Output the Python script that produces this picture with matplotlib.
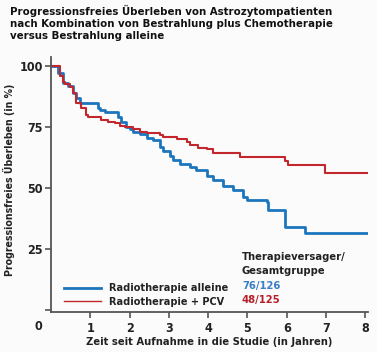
import matplotlib.pyplot as plt

plt.rcParams['font.family'] = ['DejaVu Sans']
plt.rcParams['font.stretch'] = 'condensed'
plt.rcParams['font.weight'] = 'bold'
plt.rcParams['axes.labelweight'] = 'bold'

# Kaplan-Meier steps
t_rt = [0, 0.18, 0.3, 0.43, 0.56, 0.64, 0.74, 1.2, 1.25, 1.37, 1.7, 1.78, 1.9, 2.0, 2.08,
        2.26, 2.44, 2.6, 2.77, 2.85, 3.03, 3.1, 3.28, 3.54, 3.7, 3.97, 4.12, 4.38, 4.63,
        4.89, 5.0, 5.5, 5.52, 5.95, 6.46, 8.05]
s_rt = [100, 97, 93, 92, 89, 87, 85, 83, 82, 81, 79, 77, 75, 74, 73,
        72, 70.5, 69.7, 67, 65, 63, 61.5, 60, 58.6, 57.4, 55, 53.3, 51, 49,
        46.5, 45, 44.3, 41, 34, 31.6, 31.6]
t_pcv = [0, 0.23, 0.3, 0.36, 0.48, 0.56, 0.64, 0.76, 0.89, 0.94, 1.27, 1.45, 1.63, 1.75,
         1.88, 2.08, 2.26, 2.44, 2.77, 2.85, 3.2, 3.46, 3.54, 3.74, 3.97, 4.12, 4.81,
         5.95, 6.03, 6.97, 8.05]
s_pcv = [100, 96, 93.4, 92.6, 91.4, 89, 85, 83, 80, 79, 77.9, 77, 76.6, 75.4,
         75, 74, 73, 72.5, 71.7, 70.9, 70, 69, 67.6, 66.4, 66, 64.3, 62.7,
         61, 59.4, 56, 56]

labels = ['Radiotherapie alleine', 'Radiotherapie + PCV']
counts = ['76/126', '48/125']
colors = ['#1c76be', '#c4262e']
xticks = [1, 2, 3, 4, 5, 6, 7, 8]
yticks = [25, 50, 75, 100]

W, H = 377, 352
fig = plt.figure(figsize=(W / 100, H / 100), dpi=100, facecolor='#fbfbfb')
ax = fig.add_axes([51 / W, 1 - 312 / H, (368 - 51) / W, (312 - 57) / H])
ax.set_facecolor('#fbfbfb')

l1, = ax.step(t_rt, s_rt, where='post', color=colors[0], lw=2.0)
l2, = ax.step(t_pcv, s_pcv, where='post', color=colors[1], lw=1.5)

ax.set_xlim(0, 8.07)
ax.set_ylim(-0.8, 103.7)
ax.set_xticks(xticks)
ax.set_yticks([0] + yticks)
ax.set_yticklabels([''] + [str(v) for v in yticks])
for s in ['top', 'right']:
    ax.spines[s].set_visible(False)
for s in ['left', 'bottom']:
    ax.spines[s].set_color('#555555')
    ax.spines[s].set_linewidth(1.3)
ax.tick_params(colors='#555555', length=4, width=1.2, labelcolor='#222222', labelsize=9)
ax.tick_params(axis='x', pad=3)
ax.tick_params(axis='y', pad=2)

fig.text(38 / W, 1 - 326 / H, '0', fontsize=9, color='#222222', ha='center', va='center')

ax.set_ylabel('Progressionsfreies Überleben (in %)', fontsize=7.6, color='#222222')
ax.yaxis.set_label_coords(-0.115, 0.52)
ax.set_xlabel('Zeit seit Aufnahme in die Studie (in Jahren)', fontsize=8, color='#222222')
ax.xaxis.set_label_coords(0.5, -0.098)

fig.text(10 / W, 1 - 5 / H,
         'Progressionsfreies Überleben von Astrozytompatienten\n'
         'nach Kombination von Bestrahlung plus Chemotherapie\n'
         'versus Bestrahlung alleine',
         fontsize=8.2, color='#111111', ha='left', va='top', linespacing=1.22)

leg = ax.legend([l1, l2], labels, loc='upper left', bbox_to_anchor=(59 / W, 1 - 278 / H),
                bbox_transform=fig.transFigure, frameon=False, fontsize=7.8,
                handlelength=3.4, handletextpad=0.75, labelspacing=0.32, borderpad=0)
leg.get_lines()[1].set_linewidth(1.0)
for txt in leg.get_texts():
    txt.set_color('#222222')

fig.text(242 / W, 1 - 264 / H, 'Therapieversager/\nGesamtgruppe', fontsize=8,
         color='#222222', ha='left', va='center', linespacing=1.4)
fig.text(242 / W, 1 - 286 / H, counts[0], fontsize=8, color='#3a7dc4', ha='left', va='center')
fig.text(242 / W, 1 - 300 / H, counts[1], fontsize=8, color='#b5202a', ha='left', va='center')

fig.savefig('out.png', dpi=100, facecolor=fig.get_facecolor())
